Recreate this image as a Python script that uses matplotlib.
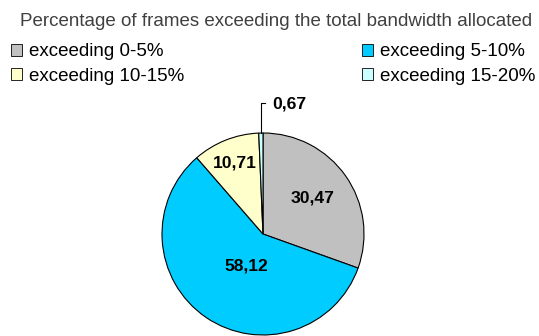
import matplotlib
matplotlib.use("Agg")
import matplotlib.pyplot as plt
import numpy as np

plt.rcParams['font.family'] = ['Liberation Sans', 'DejaVu Sans']

categories = ["exceeding 0-5%", "exceeding 5-10%", "exceeding 10-15%", "exceeding 15-20%"]
values = [30.47, 58.12, 10.71, 0.67]
value_labels = ["30,47", "58,12", "10,71", "0,67"]
colors = ["#C0C0C0", "#00CCFF", "#FFFFCC", "#CCFFFF"]

W, H = 539, 336
fig = plt.figure(figsize=(W / 100, H / 100), dpi=100)
ax = fig.add_axes([0, 0, 1, 1])

# pie drawn in a pixel-sized data space, starting at 12 o'clock, clockwise
cx, cy, r = 263, H - 234, 101
wedges, _ = ax.pie(values, colors=colors, startangle=90, counterclock=False,
                   center=(cx, cy), radius=r,
                   wedgeprops=dict(edgecolor="black", linewidth=0.8))
ax.set_xlim(0, W)
ax.set_ylim(0, H)
ax.set_aspect("equal")
ax.axis("off")

# value labels inside the larger wedges
dist = [0.61, 0.36, 0.76]
angle_shift = [1, 7, 0]
for w, lab, d, s in zip(wedges[:3], value_labels[:3], dist, angle_shift):
    ang = np.deg2rad((w.theta1 + w.theta2) / 2 + s)
    ax.text(cx + d * r * np.cos(ang), cy + d * r * np.sin(ang), lab,
            ha="center", va="center", fontsize=12.6, fontweight="bold")

# small wedge: label with leader line
w = wedges[3]
ang = np.deg2rad((w.theta1 + w.theta2) / 2)
x0, y0 = cx + r * np.cos(ang), cy + r * np.sin(ang)
ytop = H - 103
ax.plot([x0, x0, x0 + 4], [y0, ytop, ytop], color="black", lw=0.8)
ax.text(x0 + 11, ytop - 1, value_labels[3], ha="left", va="center",
        fontsize=12.6, fontweight="bold")

fig.text(276 / W, 1 - 21 / H, "Percentage of frames exceeding the total bandwidth allocated",
         ha="center", va="center", fontsize=13.5, color="#404040")

order = [0, 2, 1, 3]
leg = fig.legend([wedges[i] for i in order], [categories[i] for i in order],
                 ncol=2, frameon=False, loc="upper left",
                 bbox_to_anchor=(11 / W, 1 - 43.5 / H),
                 fontsize=13.5, handlelength=0.58, handleheight=0.58,
                 handletextpad=0.36, columnspacing=9.5, labelspacing=0.38,
                 borderpad=0, borderaxespad=0)
for h in leg.legend_handles:
    h.set_linewidth(0.6)

fig.savefig("out.png", dpi=100)
